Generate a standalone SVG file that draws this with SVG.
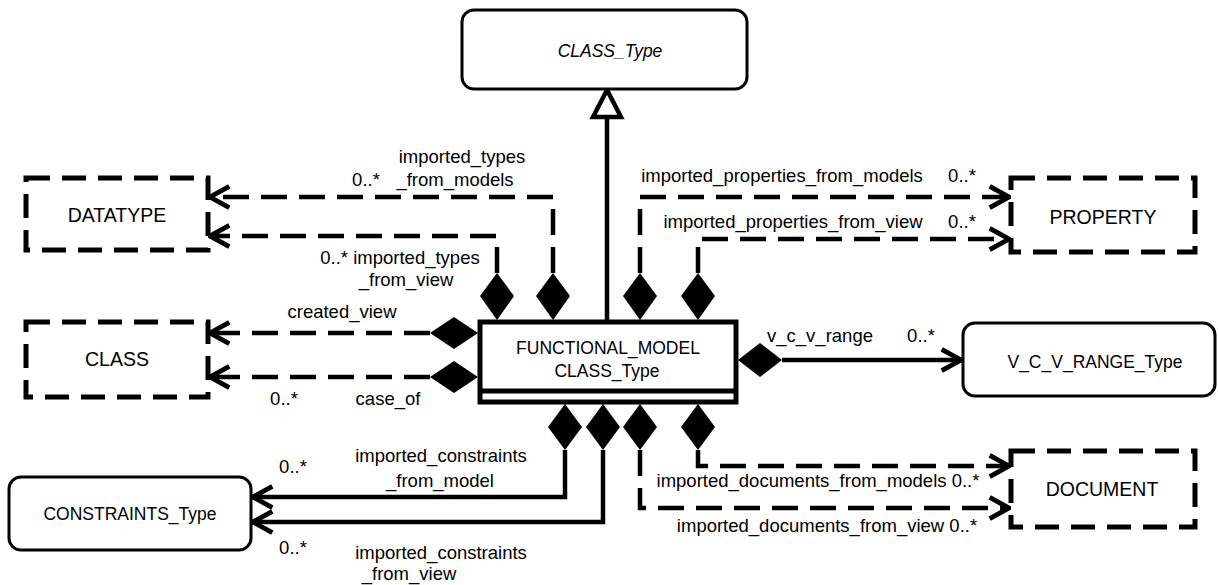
<svg xmlns="http://www.w3.org/2000/svg" width="1218" height="585" viewBox="0 0 1218 585">
<style>
text{font-family:"Liberation Sans",Arial,sans-serif;fill:#000;}
.lbl{font-size:18.5px;text-anchor:middle;}
.nm{font-size:17.5px;text-anchor:middle;}
.up{font-size:19.5px;}
.it{font-style:italic;}
.rbox{fill:#fff;stroke:#000;stroke-width:3;}
.dbox{fill:#fff;stroke:#000;stroke-width:5;stroke-dasharray:24 12;}
.dash{fill:none;stroke:#000;stroke-width:4.5;stroke-dasharray:26 12;}
.solid{fill:none;stroke:#000;stroke-width:4.5;}
.dia{fill:#000;stroke:none;}
</style>
<defs>
<marker id="open" markerUnits="userSpaceOnUse" markerWidth="30" markerHeight="30" viewBox="-22 -14 26 28" refX="0" refY="0" orient="auto">
<path d="M -18 -10 L 0 0 L -18 10" fill="none" stroke="#000" stroke-width="4.5" stroke-dasharray="none"/>
</marker>
</defs>
<rect width="1218" height="585" fill="#fff"/>

<g id="connectors">
<!-- generalization -->
<line x1="607" y1="320" x2="607" y2="118" class="solid"/>
<polygon points="607,90 593,117 621,117" fill="#fff" stroke="#000" stroke-width="4.5" stroke-linejoin="miter"/>
<!-- imported_types_from_models -->
<path class="dash" d="M553 273 L553 197 L210 197" marker-end="url(#open)"/>
<!-- imported_types_from_view -->
<path class="dash" d="M497 273 L497 236 L210 236" marker-end="url(#open)"/>
<!-- created_view -->
<path class="dash" d="M430 333 L210 333" marker-end="url(#open)"/>
<!-- case_of -->
<path class="dash" d="M430 377 L210 377" marker-end="url(#open)"/>
<!-- imported_properties_from_models -->
<path class="dash" d="M640 273 L640 197 L1009 197" marker-end="url(#open)"/>
<!-- imported_properties_from_view -->
<path class="dash" d="M698 273 L698 239 L1009 239" marker-end="url(#open)"/>
<!-- v_c_v_range -->
<path class="solid" d="M782 360 L961 360" marker-end="url(#open)"/>
<!-- imported_constraints_from_model -->
<path class="solid" d="M565 450 L565 497 L253 497" marker-end="url(#open)"/>
<!-- imported_constraints_from_view -->
<path class="solid" d="M603 450 L603 522 L253 522" marker-end="url(#open)"/>
<!-- imported_documents_from_models -->
<path class="dash" d="M698 450 L698 466 L1009 466" marker-end="url(#open)"/>
<!-- imported_documents_from_view -->
<path class="dash" d="M640 450 L640 508 L1009 508" marker-end="url(#open)"/>

<!-- diamonds -->
<polygon class="dia" points="497,273 514,296 497,320 480,296"/>
<polygon class="dia" points="553,273 570,296 553,320 536,296"/>
<polygon class="dia" points="640,273 657,296 640,320 623,296"/>
<polygon class="dia" points="698,273 715,296 698,320 681,296"/>
<polygon class="dia" points="430,333 454,317 478,333 454,349"/>
<polygon class="dia" points="430,377 454,361 478,377 454,393"/>
<polygon class="dia" points="738,360 760,343 782,360 760,377"/>
<polygon class="dia" points="565,404 582,427 565,450 548,427"/>
<polygon class="dia" points="603,404 620,427 603,450 586,427"/>
<polygon class="dia" points="640,404 657,427 640,450 623,427"/>
<polygon class="dia" points="698,404 715,427 698,450 681,427"/>

<!-- labels -->
<text class="lbl" x="462" y="163">imported_types</text>
<text class="lbl" x="366" y="186">0..*</text>
<text class="lbl" x="455" y="186">_from_models</text>
<text class="lbl" x="400" y="264">0..* imported_types</text>
<text class="lbl" x="406" y="286">_from_view</text>
<text class="lbl" x="342" y="318">created_view</text>
<text class="lbl" x="284" y="405">0..*</text>
<text class="lbl" x="388" y="405">case_of</text>
<text class="lbl" x="782" y="182">imported_properties_from_models</text>
<text class="lbl" x="962" y="182">0..*</text>
<text class="lbl" x="793" y="228">imported_properties_from_view</text>
<text class="lbl" x="962" y="228">0..*</text>
<text class="lbl" x="820" y="342">v_c_v_range</text>
<text class="lbl" x="921" y="342">0..*</text>
<text class="lbl" x="441" y="462">imported_constraints</text>
<text class="lbl" x="293" y="473">0..*</text>
<text class="lbl" x="440" y="487">_from_model</text>
<text class="lbl" x="293" y="554">0..*</text>
<text class="lbl" x="441" y="559">imported_constraints</text>
<text class="lbl" x="409" y="580">_from_view</text>
<text class="lbl" x="818" y="487">imported_documents_from_models 0..*</text>
<text class="lbl" x="827" y="532">imported_documents_from_view 0..*</text>
</g>

<g id="class_type">
<rect class="rbox" x="462" y="10" width="285" height="79" rx="12"/>
<text class="nm it" x="610" y="57">CLASS_Type</text>
</g>
<g id="datatype">
<rect class="dbox" x="26" y="178" width="182" height="72"/>
<text class="nm up" x="117" y="222">DATATYPE</text>
</g>
<g id="class">
<rect class="dbox" x="26" y="322" width="182" height="75"/>
<text class="nm up" x="117" y="366">CLASS</text>
</g>
<g id="property">
<rect class="dbox" x="1011" y="178" width="184" height="74"/>
<text class="nm up" x="1103" y="224">PROPERTY</text>
</g>
<g id="document">
<rect class="dbox" x="1011" y="451" width="184" height="76"/>
<text class="nm up" x="1102" y="496">DOCUMENT</text>
</g>
<g id="v_c_v_range_type">
<rect class="rbox" x="963" y="323" width="252" height="73" rx="12"/>
<text class="nm" x="1095" y="368">V_C_V_RANGE_Type</text>
</g>
<g id="constraints_type">
<rect class="rbox" x="9" y="477" width="242" height="73" rx="12"/>
<text class="nm" x="130" y="520">CONSTRAINTS_Type</text>
</g>
<g id="functional_model">
<rect x="480" y="322" width="256" height="80" fill="#fff" stroke="#000" stroke-width="5"/>
<line x1="480" y1="391" x2="736" y2="391" stroke="#000" stroke-width="5"/>
<text class="nm" x="608" y="354">FUNCTIONAL_MODEL</text>
<text class="nm" x="607" y="377">CLASS_Type</text>
</g>
</svg>
